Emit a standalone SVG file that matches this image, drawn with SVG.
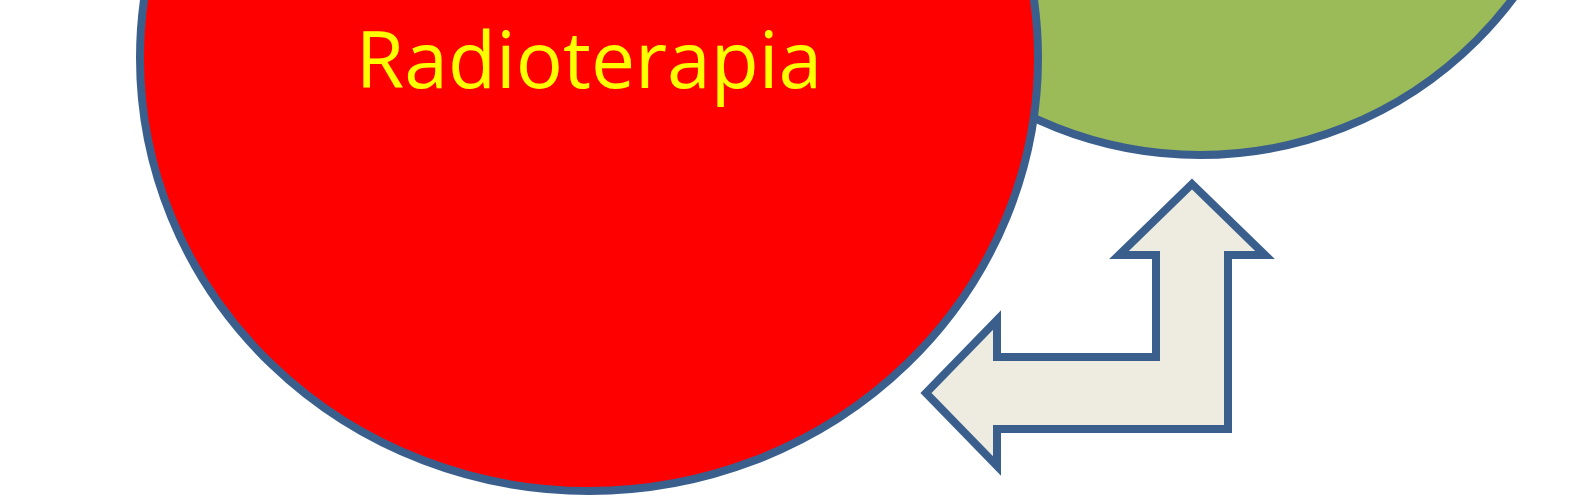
<svg xmlns="http://www.w3.org/2000/svg" width="1585" height="498" viewBox="0 0 1585 498">
<style>
.shape{stroke:#3B5F8D;stroke-width:8}
.label{font-family:"Open Sans","Noto Sans","Liberation Sans",sans-serif;fill:#FFFF00}
</style>
<rect width="1585" height="498" fill="#FFFFFF"/>
<g id="green-node">
<circle class="shape" cx="1200" cy="-236" r="391" fill="#9BBB59"/>
</g>
<g id="radioterapia-node">
<ellipse class="shape" cx="589" cy="58" rx="449" ry="433" fill="#FF0000"/>
<text class="label" x="589" y="88" font-size="78.5" text-anchor="middle">Radioterapia</text>
</g>
<g id="connectors">
<path class="shape" fill="#EEECE1" stroke-linejoin="miter" d="M1192,184 L1265,255 L1228,255 L1228,429 L997,429 L997,466 L926,393 L997,320 L997,357 L1156,357 L1156,255 L1119,255 Z"/>
</g>
</svg>
